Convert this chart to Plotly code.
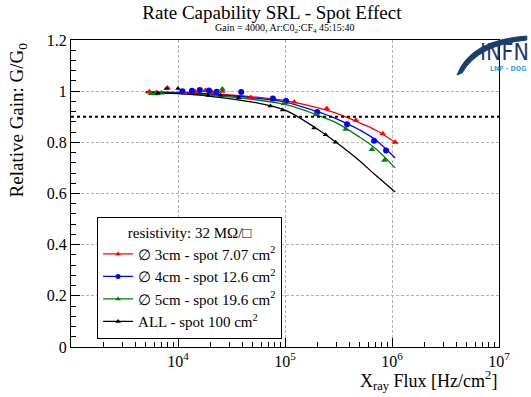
import plotly.graph_objects as go

# ---------------- data ----------------
red_x = [5.4e3, 6.3e3, 8.0e3, 1.15e4, 1.45e4, 1.8e4, 2.1e4, 2.6e4, 4.8e4, 1.05e5, 1.22e5, 2.45e5, 4.6e5, 8.2e5, 1.07e6]
red_y = [0.998, 0.995, 1.012, 0.993, 0.998, 1.003, 0.995, 1.0, 0.975, 0.962, 0.958, 0.932, 0.886, 0.834, 0.800]

blue_x = [1.1e4, 1.35e4, 1.6e4, 1.95e4, 2.3e4, 3.9e4, 7.7e4, 1.02e5, 2.0e5, 3.8e5, 6.8e5, 8.8e5]
blue_y = [1.0, 1.002, 1.005, 1.003, 0.998, 0.997, 0.971, 0.962, 0.919, 0.871, 0.806, 0.768]

green_x = [5.6e3, 6.2e3, 7.0e3, 2.6e4, 9.8e4, 1.95e5, 3.7e5, 6.5e5, 8.5e5]
green_y = [0.991, 0.990, 0.993, 1.008, 0.952, 0.908, 0.851, 0.772, 0.730]

black_x = [6.5e3, 7.8e3, 1.0e4, 1.9e4, 2.5e4, 3.7e4, 7.3e4, 9.5e4, 1.87e5, 2.4e5, 2.97e5]
black_y = [0.992, 1.010, 1.010, 0.984, 0.984, 0.974, 0.942, 0.926, 0.856, 0.830, 0.800]

# fitted curves
fit_x = [5.0e3, 1e4, 2e4, 5e4, 1e5, 2e5, 3e5, 5e5, 7e5, 1.07e6]
fit_red = [0.997, 0.995, 0.990, 0.978, 0.963, 0.936, 0.914, 0.876, 0.848, 0.800]
fit_blue = [0.997, 0.994, 0.988, 0.974, 0.957, 0.920, 0.893, 0.848, 0.810, 0.739]
fit_green = [0.994, 0.991, 0.985, 0.968, 0.948, 0.907, 0.877, 0.820, 0.776, 0.700]
fit_black = [0.995, 0.990, 0.980, 0.957, 0.926, 0.852, 0.800, 0.727, 0.672, 0.606]

labels = ["∅ 3cm - spot 7.07 cm<sup>2</sup>", "∅ 4cm - spot 12.6 cm<sup>2</sup>",
          "∅ 5cm - spot 19.6 cm<sup>2</sup>", "ALL - spot 100 cm<sup>2</sup>"]
colors = ["#ff0000", "#0000ff", "#008000", "#000000"]
symbols = ["triangle-up", "circle", "triangle-up", "triangle-up"]
msizes = [6, 6, 6, 5]

y_ticks = [0, 0.2, 0.4, 0.6, 0.8, 1.0, 1.2]
y_ticktext = ["0", "0.2", "0.4", "0.6", "0.8", "1", "1.2"]
x_ticks = [1e4, 1e5, 1e6, 1e7]
x_ticktext = ["10<sup>4</sup>", "10<sup>5</sup>", "10<sup>6</sup>", "10<sup>7</sup>"]
decades = [1e3, 1e4, 1e5, 1e6]
x_minor = [k * d for d in decades for k in range(2, 10)]

FONT = "Liberation Serif"

fig = go.Figure()

pts = [(red_x, red_y), (blue_x, blue_y), (green_x, green_y), (black_x, black_y)]
fits = [fit_red, fit_blue, fit_green, fit_black]

for i in range(4):
    fig.add_trace(go.Scatter(x=fit_x, y=fits[i], mode="lines", line=dict(color=colors[i], width=1.3, shape="spline"),
                             showlegend=False, hoverinfo="skip"))
for i in range(4):
    fig.add_trace(go.Scatter(x=pts[i][0], y=pts[i][1], mode="markers",
                             marker=dict(color=colors[i], symbol=symbols[i], size=msizes[i]),
                             showlegend=False))
# legend entries (line + marker sample)
for i in range(4):
    fig.add_trace(go.Scatter(x=[None], y=[None], mode="lines+markers", name=labels[i],
                             line=dict(color=colors[i], width=1.3),
                             marker=dict(color=colors[i], symbol=symbols[i], size=5)))

fig.add_hline(y=0.9, line=dict(color="black", width=2, dash="dot"))

grid = dict(showgrid=True, gridcolor="#b4b4b4", griddash="3px,2px", gridwidth=1)
fig.update_xaxes(type="log", range=[3, 7], tickvals=x_ticks, ticktext=x_ticktext,
                 showline=True, linecolor="black", linewidth=1, mirror=True,
                 ticks="inside", ticklen=9, tickcolor="black",
                 minor=dict(tickvals=x_minor, ticks="inside", ticklen=5, tickcolor="black", showgrid=False),
                 tickfont=dict(family=FONT, size=16, color="black"), zeroline=False, **grid)
fig.update_yaxes(range=[0, 1.2], tickvals=y_ticks, ticktext=y_ticktext,
                 showline=True, linecolor="black", linewidth=1, mirror=True,
                 ticks="inside", ticklen=9, tickcolor="black",
                 minor=dict(dtick=0.04, ticks="inside", ticklen=5, tickcolor="black", showgrid=False),
                 tickfont=dict(family=FONT, size=16, color="black"), zeroline=False, **grid)

fig.update_layout(
    width=531, height=397,
    margin=dict(l=71, r=32, t=40, b=50),
    paper_bgcolor="white", plot_bgcolor="white",
    font=dict(family=FONT, color="black"),
    title=dict(text="Rate Capability SRL - Spot Effect", x=0.512, xanchor="center",
               y=1 - 12 / 397, yanchor="middle", yref="container",
               font=dict(family=FONT, size=19, color="black")),
    legend=dict(x=0.061, y=0.423, xanchor="left", yanchor="top",
                bordercolor="black", borderwidth=1, bgcolor="white",
                font=dict(family=FONT, size=15, color="black"),
                title=dict(text="resistivity: 32 MΩ/□", side="top center",
                           font=dict(family=FONT, size=15, color="black")),
                tracegroupgap=0, itemwidth=30),
    showlegend=True,
)

fig.add_annotation(text="Gain = 4000, Ar:C0<sub>2</sub>:CF<sub>4</sub> 45:15:40", xref="paper", yref="paper",
                   x=0.5, y=1.036, xanchor="center", yanchor="middle", showarrow=False,
                   font=dict(family=FONT, size=10, color="black"))
fig.add_annotation(text="Relative Gain: G/G<sub>0</sub>", xref="paper", yref="paper",
                   x=-0.124, y=1.0, xanchor="center", yanchor="top", textangle=-90, showarrow=False,
                   font=dict(family=FONT, size=19, color="black"))
fig.add_annotation(text="X<sub>ray</sub> Flux [Hz/cm<sup>2</sup>]", xref="paper", yref="paper",
                   x=1.0, y=-0.11, xanchor="right", yanchor="middle", showarrow=False,
                   font=dict(family=FONT, size=18, color="black"))

# INFN logo (approximate)
fig.add_shape(type="path", xref="paper", yref="paper",
              path="M 0.902 0.886 Q 0.932 1.0 1.065 1.013 L 1.065 1.0 Q 0.951 0.984 0.914 0.893 Z",
              fillcolor="#1d3c6e", line=dict(color="#1d3c6e", width=1))
fig.add_annotation(text="INFN", xref="paper", yref="paper", x=1.013, y=0.962,
                   xanchor="center", yanchor="middle", showarrow=False,
                   font=dict(family="Liberation Sans Narrow, DejaVu Sans Condensed, sans-serif", size=23, color="#1d3c6e"))
fig.add_annotation(text="<b>LNF - DOG</b>", xref="paper", yref="paper", x=1.02, y=0.905,
                   xanchor="center", yanchor="middle", showarrow=False,
                   font=dict(family="Liberation Sans Narrow, DejaVu Sans Condensed, sans-serif", size=7, color="#4a9fd0"))

fig.write_html("out.html", config={"displayModeBar": False},
               post_script="document.body.style.margin='0px';document.body.style.padding='0px';")
